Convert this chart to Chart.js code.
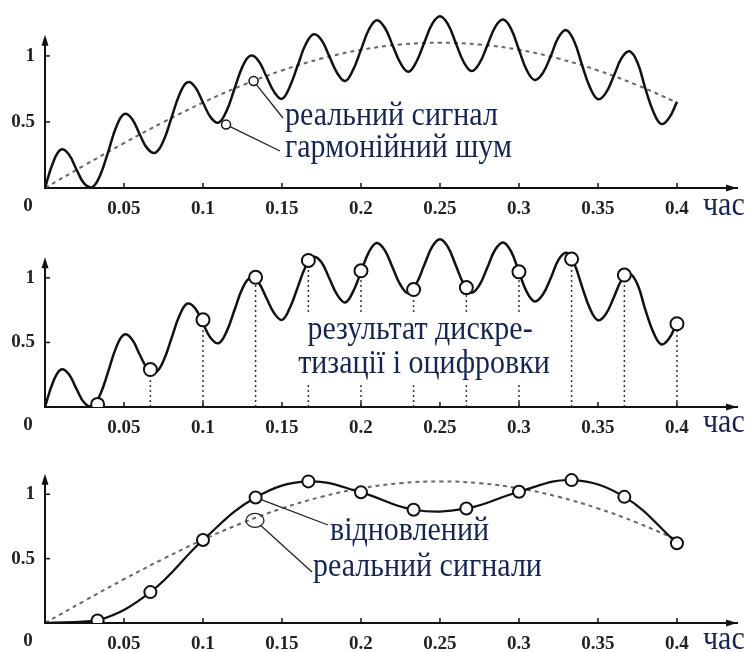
<!DOCTYPE html>
<html>
<head>
<meta charset="utf-8">
<script src="https://cdn.jsdelivr.net/npm/chart.js@4.4.0/dist/chart.umd.min.js"></script>
<style>
body { margin: 0; background: #fff; }
#wrap { position: relative; width: 749px; height: 652px; overflow: hidden; }
canvas { position: absolute; left: 0; }
</style>
</head>
<body>
<div id="wrap">
  <canvas id="panel-1" width="749" height="217" style="top:0px"></canvas>
  <canvas id="panel-2" width="749" height="217" style="top:217px"></canvas>
  <canvas id="panel-3" width="749" height="218" style="top:434px"></canvas>
</div>
<script>
// axis ticks
var xTicks = [0, 0.05, 0.1, 0.15, 0.2, 0.25, 0.3, 0.35, 0.4];
var xTickLabels = ['', '0.05', '0.1', '0.15', '0.2', '0.25', '0.3', '0.35', '0.4'];
var yTicks = [0.5, 1];
var yTickLabels = ['0.5', '1'];
var xAxisName = 'час';

var signalTimes = [
  0, 0.005, 0.01, 0.015, 0.02, 0.025, 0.03, 0.035, 0.04, 0.045,
  0.05, 0.055, 0.06, 0.065, 0.07, 0.075, 0.08, 0.085, 0.09, 0.095,
  0.1, 0.105, 0.11, 0.115, 0.12, 0.125, 0.13, 0.135, 0.14, 0.145,
  0.15, 0.155, 0.16, 0.165, 0.17, 0.175, 0.18, 0.185, 0.19, 0.195,
  0.2, 0.205, 0.21, 0.215, 0.22, 0.225, 0.23, 0.235, 0.24, 0.245,
  0.25, 0.255, 0.26, 0.265, 0.27, 0.275, 0.28, 0.285, 0.29, 0.295,
  0.3, 0.305, 0.31, 0.315, 0.32, 0.325, 0.33, 0.335, 0.34, 0.345,
  0.35, 0.355, 0.36, 0.365, 0.37, 0.375, 0.38, 0.385, 0.39, 0.395,
  0.4
];
var signalValues = [
  0, 0.19, 0.29, 0.255, 0.138, 0.031, 0.006, 0.099, 0.274, 0.46,
  0.56, 0.525, 0.405, 0.296, 0.268, 0.358, 0.53, 0.705, 0.8, 0.765,
  0.647, 0.533, 0.495, 0.586, 0.753, 0.919, 1.002, 0.966, 0.848, 0.728,
  0.675, 0.769, 0.929, 1.088, 1.164, 1.121, 0.995, 0.869, 0.81, 0.894,
  1.046, 1.2, 1.27, 1.215, 1.081, 0.945, 0.88, 0.954, 1.098, 1.24,
  1.3, 1.24, 1.098, 0.954, 0.885, 0.945, 1.081, 1.22, 1.275, 1.205,
  1.046, 0.89, 0.818, 0.869, 0.995, 1.14, 1.195, 1.11, 0.929, 0.76,
  0.672, 0.72, 0.848, 0.985, 1.035, 0.95, 0.753, 0.58, 0.485, 0.53,
  0.652
];

// slow (dashed) signal
var slowTimes = [0, 0.025, 0.05, 0.075, 0.1, 0.125, 0.15, 0.175, 0.2, 0.225, 0.25, 0.275, 0.3, 0.325, 0.35, 0.375, 0.4];
var slowValues = [0, 0.172, 0.34, 0.499, 0.647, 0.778, 0.89, 0.98, 1.046, 1.086, 1.1, 1.086, 1.046, 0.98, 0.89, 0.778, 0.647];

// marker circles in panel 1
var markTimes = [0.132, 0.1146];
var markValues = [0.81, 0.48];

// sampled points (panel 2)
var sampleTimes = [0.0333, 0.0667, 0.1, 0.1333, 0.1667, 0.2, 0.2333, 0.2667, 0.3, 0.3333, 0.3667, 0.4];
var sampleValues = [0.02, 0.29, 0.675, 1.005, 1.135, 1.055, 0.91, 0.925, 1.047, 1.146, 1.022, 0.645];

// restored signal (panel 3)
var restoredTimes = [0, 0.0333, 0.0667, 0.1, 0.1333, 0.1667, 0.2, 0.2333, 0.2667, 0.3, 0.3333, 0.3667, 0.4];
var restoredValues = [0, 0.02, 0.24, 0.645, 0.975, 1.1, 1.015, 0.88, 0.89, 1.02, 1.11, 0.98, 0.62];

var serif = '"Liberation Serif", "DejaVu Serif", serif';
var ink = '#111';
var inkBlue = '#16254f';
var yAxisTop = 1.16;

function pts(xs, ys) {
  return xs.map(function (x, i) { return { x: x, y: ys[i] }; });
}

function stems(xs, ys) {
  var out = [];
  xs.forEach(function (x, i) {
    out.push({ x: x, y: 0 }, { x: x, y: ys[i] }, { x: x, y: null });
  });
  return out;
}

function stretchText(ctx, str, x, y, align, box) {
  ctx.save();
  ctx.font = '30px ' + serif;
  ctx.textAlign = align || 'left';
  ctx.textBaseline = 'alphabetic';
  if (box) {
    var w = ctx.measureText(str).width;
    var left = align === 'center' ? x - w / 2 : x;
    ctx.fillStyle = '#fff';
    ctx.fillRect(left - 3, y - 26, w + 6, 36);
  }
  ctx.translate(x, y);
  ctx.scale(1, 1.12);
  ctx.fillStyle = inkBlue;
  ctx.fillText(str, 0, 0);
  ctx.restore();
}

// axes arrows, tick marks, origin label and annotations
function makeDecor(notes) {
  return {
    id: 'decor',
    afterDatasetsDraw: function (chart) {
      var ctx = chart.ctx, ca = chart.chartArea;
      var xs = chart.scales.x, ys = chart.scales.y;
      var yb = ys.getPixelForValue(0), yt = ys.getPixelForValue(yAxisTop);
      ctx.save();
      ctx.strokeStyle = ink;
      ctx.fillStyle = ink;
      ctx.lineWidth = 2;
      ctx.beginPath();
      ctx.moveTo(ca.left, yb);
      ctx.lineTo(ca.left, yt + 6);
      ctx.stroke();
      ctx.beginPath();
      ctx.moveTo(ca.left, yt);
      ctx.lineTo(ca.left - 3.5, yt + 11);
      ctx.lineTo(ca.left + 3.5, yt + 11);
      ctx.closePath();
      ctx.fill();
      ctx.beginPath();
      ctx.moveTo(ca.right, yb);
      ctx.lineTo(ca.right - 11, yb - 3.5);
      ctx.lineTo(ca.right - 11, yb + 3.5);
      ctx.closePath();
      ctx.fill();
      ctx.lineWidth = 1.5;
      xTicks.forEach(function (v) {
        if (v === 0) return;
        var px = xs.getPixelForValue(v);
        ctx.beginPath();
        ctx.moveTo(px, yb);
        ctx.lineTo(px, yb - 5);
        ctx.stroke();
      });
      yTicks.forEach(function (v) {
        var py = ys.getPixelForValue(v);
        ctx.beginPath();
        ctx.moveTo(ca.left, py);
        ctx.lineTo(ca.left + 5, py);
        ctx.stroke();
      });
      ctx.font = 'bold 19px ' + serif;
      ctx.fillStyle = '#222';
      ctx.textAlign = 'center';
      ctx.textBaseline = 'middle';
      ctx.fillText('0', ca.left - 17, yb + 18);

      ctx.lineWidth = 1.3;
      ctx.strokeStyle = '#222';
      (notes.leaders || []).forEach(function (l) {
        var ax = xs.getPixelForValue(l.x), ay = ys.getPixelForValue(l.y);
        var dx = l.to[0] - ax, dy = l.to[1] - ay, d = Math.sqrt(dx * dx + dy * dy);
        ctx.beginPath();
        ctx.moveTo(ax + dx / d * l.r, ay + dy / d * l.r);
        ctx.lineTo(l.to[0], l.to[1]);
        ctx.stroke();
      });
      (notes.ellipses || []).forEach(function (e) {
        ctx.beginPath();
        ctx.ellipse(xs.getPixelForValue(e.x), ys.getPixelForValue(e.y), e.rx, e.ry, 0, 0, Math.PI * 2);
        ctx.stroke();
      });
      ctx.restore();

      (notes.texts || []).forEach(function (t) {
        stretchText(ctx, t.str, t.x, t.y, t.align, t.box);
      });
      stretchText(ctx, xAxisName, 703, 215, 'left', false);
    }
  };
}

function makeScales(bottomH, yMax) {
  return {
    x: {
      type: 'linear', min: 0, max: 0.438,
      afterBuildTicks: function (s) { s.ticks = xTicks.map(function (v) { return { value: v }; }); },
      afterFit: function (s) { s.height = bottomH; s.paddingLeft = 0; s.paddingRight = 0; },
      grid: { display: false, drawTicks: false },
      border: { display: true, color: ink, width: 2 },
      ticks: {
        padding: 10, color: '#222', autoSkip: false, maxRotation: 0,
        font: { family: serif, size: 19, weight: 'bold' },
        callback: function (v, i) { return xTickLabels[i]; }
      }
    },
    y: {
      type: 'linear', min: 0, max: yMax,
      afterBuildTicks: function (s) { s.ticks = yTicks.map(function (v) { return { value: v }; }); },
      afterFit: function (s) { s.width = 45; s.paddingTop = 0; s.paddingBottom = 0; },
      grid: { display: false, drawTicks: false },
      border: { display: false },
      ticks: {
        padding: 10, color: '#222',
        font: { family: serif, size: 19, weight: 'bold' },
        callback: function (v, i) { return yTickLabels[i]; }
      }
    }
  };
}

function baseOptions(bottomH, yMax) {
  return {
    responsive: false,
    devicePixelRatio: 1,
    animation: false,
    layout: { padding: { top: 2, right: 12, left: 0, bottom: 0 } },
    plugins: { legend: { display: false }, tooltip: { enabled: false } },
    scales: makeScales(bottomH, yMax)
  };
}

var signalLine = function () {
  return {
    data: pts(signalTimes, signalValues),
    borderColor: ink, borderWidth: 2.5, pointRadius: 0, tension: 0.4, fill: false
  };
};
var slowLine = function () {
  return {
    data: pts(slowTimes, slowValues),
    borderColor: '#666', borderWidth: 2, borderDash: [4, 4], pointRadius: 0, tension: 0.4, fill: false
  };
};

// panel 1
new Chart(document.getElementById('panel-1'), {
  type: 'line',
  data: {
    datasets: [
      {
        data: pts(markTimes, markValues), showLine: false,
        pointRadius: 4.5, pointBackgroundColor: '#fff', pointBorderColor: ink, pointBorderWidth: 1.5
      },
      signalLine(),
      slowLine()
    ]
  },
  options: baseOptions(29, 1.378),
  plugins: [makeDecor({
    leaders: [
      { x: markTimes[0], y: markValues[0], r: 4.5, to: [283, 118] },
      { x: markTimes[1], y: markValues[1], r: 4.5, to: [280, 151] }
    ],
    texts: [
      { str: 'реальний сигнал', x: 285, y: 125, align: 'left' },
      { str: 'гармонійний шум', x: 285, y: 157, align: 'left' }
    ]
  })]
});

// panel 2
new Chart(document.getElementById('panel-2'), {
  type: 'line',
  data: {
    datasets: [
      {
        data: pts(sampleTimes, sampleValues), showLine: false,
        pointRadius: 6.5, pointBackgroundColor: '#fff', pointBorderColor: ink, pointBorderWidth: 2
      },
      signalLine(),
      {
        data: stems(sampleTimes, sampleValues), spanGaps: false,
        borderColor: '#333', borderWidth: 1.5, borderDash: [2, 3], pointRadius: 0, tension: 0
      }
    ]
  },
  options: baseOptions(27, 1.406),
  plugins: [makeDecor({
    texts: [
      { str: 'результат дискре-', x: 420, y: 122, align: 'center', box: true },
      { str: 'тизації і оцифровки', x: 424, y: 156, align: 'center', box: true }
    ]
  })]
});

// panel 3
new Chart(document.getElementById('panel-3'), {
  type: 'line',
  data: {
    datasets: [
      {
        data: pts(sampleTimes, restoredValues.slice(1)), showLine: false,
        pointRadius: 6, pointBackgroundColor: '#fff', pointBorderColor: ink, pointBorderWidth: 2
      },
      {
        data: pts(restoredTimes, restoredValues),
        borderColor: ink, borderWidth: 2.2, pointRadius: 0, tension: 0.4, fill: false
      },
      slowLine()
    ]
  },
  options: baseOptions(29, 1.406),
  plugins: [makeDecor({
    leaders: [
      { x: 0.1333, y: 0.975, r: 6, to: [328, 91] },
      { x: 0.1329, y: 0.797, r: 7, to: [312, 138] }
    ],
    ellipses: [{ x: 0.1329, y: 0.797, rx: 9, ry: 7 }],
    texts: [
      { str: 'відновлений', x: 330, y: 106, align: 'left' },
      { str: 'реальний сигнали', x: 313, y: 142, align: 'left' }
    ]
  })]
});
</script>
</body>
</html>
